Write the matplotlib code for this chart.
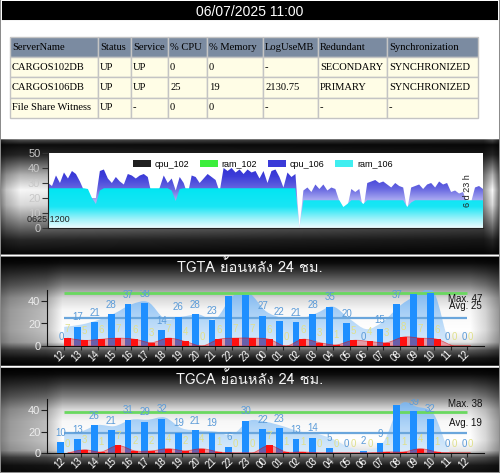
import numpy as np
import matplotlib
matplotlib.use("Agg")
import matplotlib.pyplot as plt
from matplotlib.path import Path
from matplotlib.patches import PathPatch, Patch
from matplotlib.transforms import offset_copy
import matplotlib.font_manager as fm
from matplotlib.ft2font import FT2Font

# ---------------- data ----------------
title_text = "06/07/2025 11:00"
table_headers = ["ServerName", "Status", "Service", "% CPU", "% Memory",
                 "LogUseMB", "Redundant", "Synchronization"]
table_rows = [
    ["CARGOS102DB", "UP", "UP", "0", "0", "-", "SECONDARY", "SYNCHRONIZED"],
    ["CARGOS106DB", "UP", "UP", "25", "19", "2130.75", "PRIMARY", "SYNCHRONIZED"],
    ["File Share Witness", "UP", "-", "0", "0", "-", "-", "-"],
]

legend_labels = ["cpu_102", "ram_102", "cpu_106", "ram_106"]
cpu_106 = [30, 28, 35, 30, 37, 33, 38, 36, 31, 25,
           22, 20, 20, 38, 39, 33, 30, 34, 31, 29,
           36, 35, 33, 35, 36, 34, 22, 20, 27, 35,
           30, 33, 25, 34, 30, 22, 35, 34, 30, 33,
           36, 34, 32, 24, 40, 38, 40, 37, 39, 36,
           39, 37, 38, 33, 38, 30, 38, 39, 34, 27,
           37, 34, 36, 0, 25, 27, 24, 29, 26, 29,
           25, 27, 26, 18, 12, 14, 26, 24, 26, 12,
           30, 31, 32, 30, 31, 29, 27, 30, 28, 27,
           12, 27, 28, 29, 26, 29, 30, 27, 31, 29,
           30, 24, 25, 23, 24, 17, 17, 27, 28, 26]
ram_106 = [26.5, 26.5, 26.5, 26.5, 26.5, 26.5, 26.5, 26.5, 26.5, 26.5,
           26, 20, 16, 25, 26.5, 26.5, 26.5, 26.5, 26.5, 26.5,
           26.5, 26.5, 26.5, 26.5, 26.5, 26.5, 26.5, 26.5, 26.5, 26.5,
           26.5, 25, 18, 26, 26.5, 26.5, 26.5, 26.5, 26.5, 26.5,
           26.5, 26.5, 26.5, 26.5, 26.5, 26.5, 26.5, 26.5, 26.5, 26.5,
           26.5, 26.5, 26.5, 26.5, 26.5, 26.5, 26.5, 26.5, 26.5, 26.5,
           26.5, 26.5, 26.5, 0, 18.5, 18.5, 18.5, 18.5, 18.5, 18.5,
           18.5, 18.5, 18.5, 18.5, 14, 16, 18.5, 18.5, 18.5, 16,
           18.5, 18.5, 18.5, 18.5, 18.5, 18.5, 18.5, 18.5, 18.5, 18.5,
           14, 17, 18.5, 18.5, 18.5, 18.5, 18.5, 18.5, 18.5, 18.5,
           18.5, 18.5, 18.5, 18.5, 18.5, 18.5, 18.5, 18.5, 18.5, 18.5]
trend_start = "0625 1200"
trend_span = "6 d 23 h"

hours = ["12", "13", "14", "15", "16", "17", "18", "19", "20", "21", "22", "23",
         "00", "01", "02", "03", "04", "05", "06", "07", "08", "09", "10", "11", "12"]

tgta_title = "TGTA ย้อนหลัง 24 ชม."
tgta_blue = [0, 17, 21, 28, 37, 38, 14, 26, 28, 23, 44, 45, 27, 22, 21, 28, 35, 20,
             0, 15, 37, 46, 47, 0, 0]
tgta_red = [7, 5, 6, 7, 6, 3, 7, 4, 0, 6, 7, 7, 6, 0, 6, 3, 1, 5, 4, 3, 8, 7, 6, 0, 0]
tgta_trend = [17, 19, 23, 29, 37, 39, 24, 26, 28, 24, 44, 47, 31, 25, 24, 29, 35, 24,
              15, 22, 36, 45, 48, 0, 0]
tgta_max, tgta_avg = 47, 25

tgca_title = "TGCA ย้อนหลัง 24 ชม."
tgca_blue = [10, 13, 26, 21, 31, 29, 32, 19, 21, 19, 6, 30, 22, 23, 13, 14, 5, 0,
             2, 9, 45, 39, 32, 0, 0]
tgca_red = [0, 3, 1, 7, 2, 2, 4, 2, 4, 1, 0, 0, 7, 1, 1, 0, 0, 0, 0, 1, 1, 4, 1, 0, 0]
tgca_trend = [18, 20, 26, 25, 31, 31, 33, 23, 21, 20, 17, 30, 29, 25, 20, 18, 13, 5,
              3, 10, 45, 43, 36, 0, 0]
tgca_max, tgca_avg = 38, 19

# ---------------- fonts ----------------
def find_font_with(ch):
    seen = set()
    for f in fm.fontManager.ttflist:
        if f.name in seen:
            continue
        seen.add(f.name)
        try:
            if ord(ch) in FT2Font(f.fname).get_charmap():
                return f.name
        except Exception:
            continue
    return None

thai = find_font_with("ย")
title_family = [thai, "DejaVu Sans"] if thai else ["DejaVu Sans"]
SANS = ["Liberation Sans", "DejaVu Sans"]
plt.rcParams["font.family"] = SANS

# ---------------- figure ----------------
W, H = 500, 473
fig = plt.figure(figsize=(W / 100, H / 100), dpi=100)


def add_ax(x0, y0, x1, y1, **kw):
    return fig.add_axes([x0 / W, 1 - y1 / H, (x1 - x0) / W, (y1 - y0) / H], **kw)


# background image (decorative metallic panels)
img = np.ones((H, W, 3))
rows = np.arange(H)
cols = np.arange(W)


def vprof(stops):
    return np.interp(rows, [s[0] for s in stops], [s[1] for s in stops])


h2 = np.interp(cols, [0, 6, 20, 483, 492, 499], [0.55, 0.8, 1, 0.6, 1.0, 0.45])
h3 = np.interp(cols, [0, 10, 30, 46, 62, 470, 485, 499],
               [0.5, 0.62, 0.7, 0.76, 1, 1, 0.85, 0.6])
panels = [
    (140, 255, h2, [(140, 0.3), (145, 0.05), (155, 0.15), (175, 0.7), (190, 0.97),
                    (205, 0.85), (228, 0.4), (240, 0.15), (255, 0.02)]),
    (257, 366, h3, [(257, 0.0), (263, 0.05), (272, 0.22), (285, 0.5), (298, 0.85),
                    (310, 0.97), (330, 1.0), (342, 0.9), (350, 0.35), (358, 0.1),
                    (366, 0.0)]),
    (368, 473, h3, [(368, 0.0), (374, 0.05), (383, 0.22), (396, 0.5), (409, 0.85),
                    (421, 0.97), (440, 1.0), (450, 0.9), (457, 0.35), (465, 0.1),
                    (473, 0.05)]),
]
for a, b, hf, st in panels:
    v = vprof(st)[a:b]
    img[a:b] = (v[:, None] * hf[None, :])[:, :, None]
img[255:257] = 1.0
img[366:368] = 1.0
img[2:21, 2:498] = 0.0
img[0, :] = 0.55
img[-1, :] = 0.55
img[:, 0] = 0.55
img[:, -1] = 0.55

ax_bg = fig.add_axes([0, 0, 1, 1])
ax_bg.imshow(img, extent=[0, W, H, 0], aspect="auto", interpolation="bilinear")
ax_bg.set_xlim(0, W)
ax_bg.set_ylim(H, 0)
ax_bg.axis("off")
ax_bg.text(250, 12, title_text, color="white", fontsize=10, ha="center", va="center")

# ---------------- table ----------------
ax_t = add_ax(10, 37, 478, 118)
ax_t.axis("off")
colw = [88, 33, 37, 39, 56, 55, 69, 91]
tbl = ax_t.table(cellText=table_rows, colLabels=table_headers,
                 colWidths=[c / sum(colw) for c in colw],
                 cellLoc="left", colLoc="left", bbox=[0, 0, 1, 1])
tbl.auto_set_font_size(False)
for (r, c), cell in tbl.get_celld().items():
    cell.set_fontsize(7.6)
    cell.get_text().set_fontfamily(["Liberation Serif", "DejaVu Serif"])
    cell.set_edgecolor("#c4c4c4")
    cell.set_linewidth(1.0)
    cell.set_facecolor("#7b8ba1" if r == 0 else "#fffde6")
    cell.PAD = 2.0 / colw[c]


# ---------------- helpers ----------------
def grad_colors(stops, ymax, n=256):
    vals = np.linspace(0, ymax, n)
    return np.array([np.interp(vals, [s[0] for s in stops], [s[1][k] for s in stops])
                     for k in range(4)]).T


def grad_fill(ax, path, stops, xr, ymax, zorder):
    cols_ = grad_colors(stops, ymax)
    im = ax.imshow(cols_[:, None, :], extent=[xr[0], xr[1], 0, ymax], origin="lower",
                   aspect="auto", zorder=zorder, interpolation="bilinear")
    im.set_clip_path(path, transform=ax.transData)
    return im


def smooth_area_path(xs, ys):
    n = len(xs)
    verts = [(xs[0], 0), (xs[0], ys[0])]
    codes = [Path.MOVETO, Path.LINETO]
    for i in range(n - 1):
        x0, y0 = (xs[i - 1], ys[i - 1]) if i > 0 else (xs[i], ys[i])
        x1, y1 = xs[i], ys[i]
        x2, y2 = xs[i + 1], ys[i + 1]
        x3, y3 = (xs[i + 2], ys[i + 2]) if i + 2 < n else (x2, y2)
        c1 = (x1 + (x2 - x0) / 6, max(0, y1 + (y2 - y0) / 6))
        c2 = (x2 - (x3 - x1) / 6, max(0, y2 - (y3 - y1) / 6))
        verts += [c1, c2, (x2, y2)]
        codes += [Path.CURVE4] * 3
    verts += [(xs[-1], 0), (xs[0], 0)]
    codes += [Path.LINETO, Path.CLOSEPOLY]
    return Path(verts, codes)


# ---------------- chart 2: cpu / ram trend ----------------
ax2 = add_ax(48, 153, 483, 228)
ax2.set_facecolor("white")
xi = np.arange(len(cpu_106))
poly_cpu = ax2.fill_between(xi, cpu_106, 0, facecolor="none", edgecolor="none")
poly_ram = ax2.fill_between(xi, ram_106, 0, facecolor="none", edgecolor="none")
cpu_stops = [(0, (0.85, 0.85, 1, 1)), (18, (0.68, 0.68, 0.95, 1)),
             (26, (0.4, 0.4, 0.88, 1)), (34, (0.24, 0.24, 0.85, 1)),
             (50, (0.12, 0.12, 0.8, 1))]
ram_stops = [(0, (0.93, 0.99, 1, 1)), (6, (0.62, 0.95, 0.98, 1)),
             (14, (0.1, 0.9, 0.96, 1)), (27, (0.0, 0.9, 0.95, 1)),
             (50, (0.0, 0.9, 0.95, 1))]
grad_fill(ax2, poly_cpu.get_paths()[0], cpu_stops, (0, len(xi) - 1), 50, 1)
grad_fill(ax2, poly_ram.get_paths()[0], ram_stops, (0, len(xi) - 1), 50, 2)
ax2.set_xlim(0, len(xi) - 1)
ax2.set_ylim(0, 50)
ax2.set_yticks([0, 10, 20, 30, 40, 50])
ax2.set_xticks([])
ax2.tick_params(axis="y", colors="#333333", labelcolor="#c8c8c8", labelsize=8,
                length=4.5, pad=1)
for s in ["top", "right"]:
    ax2.spines[s].set_visible(False)
for s in ["left", "bottom"]:
    ax2.spines[s].set_color("#222222")
handles = [Patch(facecolor="#202020"), Patch(facecolor="#3cee3c"),
           Patch(facecolor="#3a3ad8"), Patch(facecolor="#40eef0")]
ax2.legend(handles, legend_labels, loc="center", bbox_to_anchor=(0.494, 0.853),
           ncol=4, frameon=False, fontsize=6.5, handlelength=2.0, handleheight=0.7,
           columnspacing=1.2, handletextpad=0.4)
fig.text(27 / W, 1 - 219.5 / H, trend_start, fontsize=6.5, color="#222222",
         ha="left", va="center")
fig.text(468 / W, 1 - 191 / H, trend_span, fontsize=6.5, color="#222222",
         ha="center", va="center", rotation=90)


# ---------------- history charts ----------------
def draw_history(ax, title, ty, blue, red, trend, vmax, vavg, max_y, avg_y):
    n = len(hours)
    x = np.arange(n)
    ax.set_facecolor("none")
    area = smooth_area_path(x, trend)
    area_stops = [(0, (0.86, 0.93, 0.99, 0.9)), (25, (0.66, 0.82, 0.97, 0.9)),
                  (50, (0.45, 0.7, 0.95, 0.9))]
    grad_fill(ax, area, area_stops, (0, n - 1), 50, 1)
    ax.hlines(vavg, 0, n - 1, color="#6aa6dc", lw=1.6, zorder=2)
    ax.hlines(vmax, 0, n - 1, color="#6ad860", lw=2.0, zorder=2)
    ax.bar(x - 0.2, blue, width=0.4, color="#1e8fff", zorder=3)
    red_area = smooth_area_path(x + 0.2, red)
    ax.add_patch(PathPatch(red_area, facecolor=(1, 0, 0, 0.33),
                           edgecolor=(0.9, 0, 0, 0.5), lw=0.6, zorder=3.5))
    ax.bar(x + 0.2, red, width=0.4, color="#ff1010", zorder=4)
    off = offset_copy(ax.transData, fig=fig, y=9.5, units="dots")
    for i in range(n):
        ax.text(x[i] - 0.2, blue[i], str(blue[i]), transform=off, ha="center",
                va="center", fontsize=7, color="#5b9bd8", zorder=6, clip_on=True)
        ax.text(x[i] + 0.2, red[i], str(red[i]), transform=off, ha="center",
                va="center", fontsize=7, color="#e0e08c", zorder=6, clip_on=True)
    ax.text(24.87, max_y, "Max. %d" % vmax, ha="right", va="center", fontsize=7,
            color="#111111", zorder=7)
    ax.text(24.87, avg_y, "Avg. %d" % vavg, ha="right", va="center", fontsize=7,
            color="#111111", zorder=7)
    ax.set_xlim(-1, n)
    ax.set_ylim(0, 50)
    ax.set_yticks([0, 20, 40])
    ax.set_xticks(x)
    ax.set_xticklabels(hours, rotation=45, ha="right", va="center",
                       rotation_mode="anchor")
    ax.tick_params(axis="y", colors="#222222", labelcolor="#ececec", labelsize=8,
                   length=4, pad=1)
    ax.tick_params(axis="x", colors="#222222", labelcolor="white", labelsize=7,
                   length=3, pad=1.5)
    for s in ["top", "right"]:
        ax.spines[s].set_visible(False)
    for s in ["left", "bottom"]:
        ax.spines[s].set_color("#111111")
    fig.text(250 / W, 1 - ty / H, title, fontsize=10.5, color="#f2f2f2",
             ha="center", va="center", family=title_family)


ax3 = add_ax(47.4, 289.75, 484.2, 346)
draw_history(ax3, tgta_title, 267, tgta_blue, tgta_red, tgta_trend,
             tgta_max, tgta_avg, 41.5, 35.8)
ax4 = add_ax(47.4, 399.25, 484.2, 453)
draw_history(ax4, tgca_title, 379, tgca_blue, tgca_red, tgca_trend,
             tgca_max, tgca_avg, 46, 27.7)

fig.savefig("out.png", dpi=100)
